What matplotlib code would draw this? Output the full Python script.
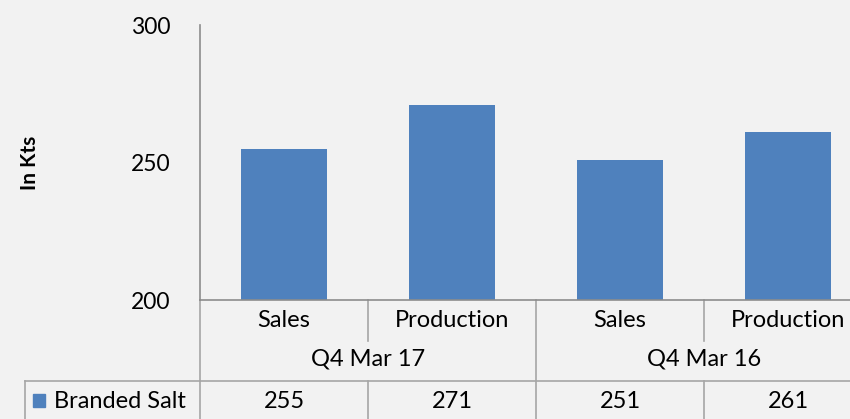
import matplotlib
matplotlib.use("Agg")
import matplotlib.pyplot as plt

# chart data
groups = ["Q4 Mar 17", "Q4 Mar 16"]
categories = ["Sales", "Production", "Sales", "Production"]
series_name = "Branded Salt"
values = [255, 271, 251, 261]
y_ticks = [200, 250, 300]

plt.rcParams["font.family"] = ["Lato", "DejaVu Sans"]

bg = "#f2f2f2"
bar_color = "#4f81bd"
axis_gray = "#8c8c8c"
grid_gray = "#a6a6a6"

W, H = 850, 419
fig = plt.figure(figsize=(W / 100, H / 100), dpi=100, facecolor=bg)

left_px, right_px, top_px, bot_px = 200, 872, 25, 300
ax = fig.add_axes([left_px / W, 1 - bot_px / H, (right_px - left_px) / W, (bot_px - top_px) / H])
ax.set_facecolor(bg)

x = list(range(len(values)))
ax.bar(x, values, width=0.51, color=bar_color, zorder=2)
ax.set_xlim(-0.5, len(values) - 0.5)
ax.set_ylim(200, 300)
ax.set_yticks(y_ticks)
ax.set_xticks([])
ax.tick_params(axis="y", length=0, labelsize=16.5, pad=21)

for s in ["top", "right"]:
    ax.spines[s].set_visible(False)
ax.spines["left"].set_color(axis_gray)
ax.spines["bottom"].set_color(axis_gray)
ax.spines["left"].set_linewidth(1.2)
ax.spines["bottom"].set_linewidth(1.2)

ax.set_ylabel("In Kts", fontsize=15, fontweight="bold", labelpad=0)
ax.yaxis.set_label_coords(-(left_px - 40) / (right_px - left_px), 0.5)

# data table below the axis
tr = ax.get_xaxis_transform()
ax_h = bot_px - top_px


def fy(px):
    return -(px - bot_px) / ax_h


y_cat_bot = fy(341)
y_row = fy(381)
y_end = fy(419)

lk = dict(transform=tr, clip_on=False, color=grid_gray, lw=1.2)
# left axis continues down through the table
ax.plot([-0.5, -0.5], [0, y_end], **lk)
for i, c in enumerate(categories[:-1]):
    xb = i + 0.5
    if (i + 1) % 2 == 0:
        ax.plot([xb, xb], [0, y_end], **lk)
    else:
        ax.plot([xb, xb], [0, y_cat_bot], **lk)
        ax.plot([xb, xb], [y_row, y_end], **lk)
ax.plot([-0.5, len(values) - 0.5], [y_row, y_row], **lk)

# legend cell of the table row, in figure coords
fig.add_artist(plt.Line2D([25 / W, left_px / W], [1 - 381 / H, 1 - 381 / H], color=grid_gray, lw=1.2))
fig.add_artist(plt.Line2D([25 / W, 25 / W], [1 - 381 / H, 0], color=grid_gray, lw=1.2))

fs = 17
for i, c in enumerate(categories):
    ax.text(i, fy(320), c, transform=tr, ha="center", va="center", fontsize=fs)
    ax.text(i, fy(401), str(values[i]), transform=tr, ha="center", va="center", fontsize=fs)
for g, name in enumerate(groups):
    ax.text(2 * g + 0.5, fy(359), name, transform=tr, ha="center", va="center", fontsize=fs)

fig.add_artist(plt.Rectangle((33 / W, 1 - 407 / H), 12 / W, 13 / H, color=bar_color))
fig.text(54 / W, 1 - 401 / H, series_name, ha="left", va="center", fontsize=fs)

fig.savefig("out.png", dpi=100, facecolor=bg)
